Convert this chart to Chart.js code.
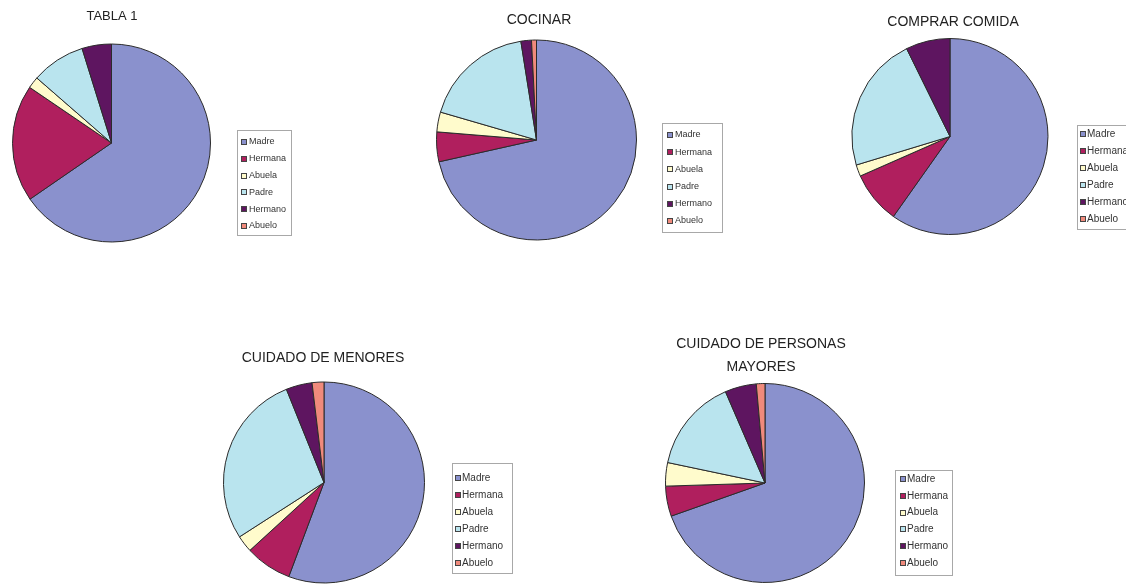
<!DOCTYPE html>
<html>
<head>
<meta charset="utf-8">
<script src="https://cdn.jsdelivr.net/npm/chart.js@4.4.1/dist/chart.umd.min.js"></script>
<style>
  html,body{margin:0;padding:0;background:#fff;}
  body{width:1126px;height:585px;overflow:hidden;position:relative;}
  canvas{position:absolute;left:0;top:0;}
</style>
</head>
<body>
<canvas id="c1" width="1126" height="585"></canvas>
<canvas id="c2" width="1126" height="585"></canvas>
<canvas id="c3" width="1126" height="585"></canvas>
<canvas id="c4" width="1126" height="585"></canvas>
<canvas id="c5" width="1126" height="585"></canvas>
<script>
// ---- data ----
const categories = ['Madre', 'Hermana', 'Abuela', 'Padre', 'Hermano', 'Abuelo'];
const titleTabla = ['TABLA 1'];
const titleCocinar = ['COCINAR'];
const titleComprar = ['COMPRAR COMIDA'];
const titleMenores = ['CUIDADO DE MENORES'];
const titleMayores = ['CUIDADO DE PERSONAS', 'MAYORES'];
const tablaValues = [65.4, 19.1, 1.9, 8.8, 4.8, 0];
const cocinarValues = [71.5, 4.8, 3.2, 18.0, 1.7, 0.8];
const comprarValues = [59.8, 8.6, 1.9, 22.4, 7.3, 0];
const menoresValues = [55.7, 7.5, 2.7, 28.0, 4.2, 1.9];
const mayoresValues = [69.6, 4.9, 3.8, 15.2, 5.1, 1.4];

// ---- styles ----
const sliceColors = ['#8a91cd', '#b01f5e', '#fffbcc', '#b9e4ee', '#5e1560', '#f08a7c'];
const W = 1126, H = 585;

const overlayPlugin = {
  id: 'overlay',
  afterDraw(chart, args, opts) {
    const ctx = chart.ctx;
    ctx.save();
    // title
    const t = opts.title;
    ctx.fillStyle = '#222';
    ctx.font = t.size + 'px "Liberation Sans", Arial, sans-serif';
    ctx.textAlign = 'center';
    ctx.textBaseline = 'middle';
    t.lines.forEach((line, i) => ctx.fillText(line, t.x, t.y + i * t.lineH));
    // legend box
    const L = opts.legend;
    ctx.fillStyle = '#ffffff';
    ctx.fillRect(L.x, L.y, L.w, L.h);
    ctx.strokeStyle = '#a8a8a8';
    ctx.lineWidth = 1;
    ctx.strokeRect(L.x + 0.5, L.y + 0.5, L.w, L.h);
    ctx.font = L.size + 'px "Liberation Sans", Arial, sans-serif';
    ctx.textAlign = 'left';
    ctx.textBaseline = 'middle';
    const labels = chart.data.labels;
    const colors = chart.data.datasets[0].backgroundColor;
    labels.forEach((lab, i) => {
      const yy = L.rowY + i * L.rowH;
      ctx.fillStyle = colors[i];
      ctx.fillRect(L.sqX, Math.round(yy - 3), 6, 6);
      ctx.strokeStyle = '#444';
      ctx.strokeRect(L.sqX + 0.5, Math.round(yy - 3) + 0.5, 5, 5);
      ctx.fillStyle = '#333';
      ctx.fillText(lab, L.textX, yy);
    });
    ctx.restore();
  }
};

function makePie(id, values, cx, cy, r, title, legend) {
  new Chart(document.getElementById(id), {
    type: 'pie',
    data: {
      labels: categories,
      datasets: [{
        data: values,
        backgroundColor: sliceColors,
        borderColor: '#2b2b2b',
        borderWidth: 1
      }]
    },
    options: {
      responsive: false,
      animation: false,
      events: [],
      layout: {
        padding: { left: cx - r, top: cy - r, right: W - cx - r, bottom: H - cy - r }
      },
      plugins: {
        legend: { display: false },
        tooltip: { enabled: false },
        title: { display: false },
        overlay: { title: title, legend: legend }
      }
    },
    plugins: [overlayPlugin]
  });
}

makePie('c1', tablaValues, 111.5, 143, 99.5,
  { lines: titleTabla, x: 112, y: 16, size: 13, lineH: 23 },
  { x: 237, y: 130, w: 54, h: 105, rowY: 142, rowH: 16.8, sqX: 241, textX: 249, size: 9 });

makePie('c2', cocinarValues, 536.5, 140, 100.5,
  { lines: titleCocinar, x: 539, y: 20, size: 14, lineH: 23 },
  { x: 662, y: 123, w: 60, h: 109, rowY: 135, rowH: 17.2, sqX: 667, textX: 675, size: 9 });

makePie('c3', comprarValues, 950, 136.5, 98.5,
  { lines: titleComprar, x: 953, y: 22, size: 14, lineH: 23 },
  { x: 1077, y: 125, w: 60, h: 104, rowY: 134, rowH: 17, sqX: 1080, textX: 1087, size: 10 });

makePie('c4', menoresValues, 324, 482.5, 101,
  { lines: titleMenores, x: 323, y: 358, size: 14, lineH: 23 },
  { x: 452, y: 463, w: 60, h: 110, rowY: 478, rowH: 17, sqX: 455, textX: 462, size: 10 });

makePie('c5', mayoresValues, 765, 483, 100,
  { lines: titleMayores, x: 761, y: 344, size: 14, lineH: 23 },
  { x: 895, y: 470, w: 57, h: 105, rowY: 479, rowH: 16.8, sqX: 900, textX: 907, size: 10 });
</script>
</body>
</html>
